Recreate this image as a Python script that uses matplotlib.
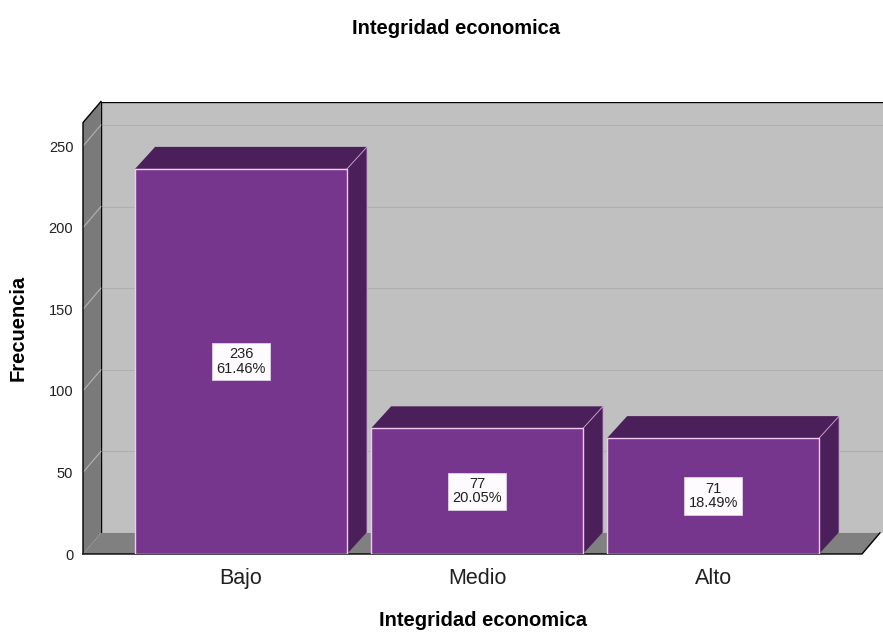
import matplotlib.pyplot as plt
from matplotlib.patches import Polygon

plt.rcParams['font.family'] = ['Liberation Sans', 'DejaVu Sans']

categories = ['Bajo', 'Medio', 'Alto']
counts = [236, 77, 71]
percents = ['61.46%', '20.05%', '18.49%']
yticks = [0, 50, 100, 150, 200, 250]

front_col = '#76368e'
dark_col = '#4b205a'
edge_col = '#f2c8f0'

# depth of the fake 3d effect, in data units
bar_dx, bar_dy = 0.085, 13.5
wall_dx, wall_dy = 0.076, 12.9
bar_w = 0.898

x0, x1, xmax = -0.6695, 2.631, 2.72
ytop = 264.4
ymax = 277.0

fig = plt.figure(figsize=(8.83, 6.33), dpi=100)
ax = fig.add_axes([83 / 883, 79 / 633, 800 / 883, 452 / 633])
ax.set_xlim(x0, xmax)
ax.set_ylim(0, ymax)
for s in ax.spines.values():
    s.set_visible(False)

# back wall
ax.add_patch(Polygon([(x0 + wall_dx, wall_dy), (xmax + 0.1, wall_dy), (xmax + 0.1, ytop + wall_dy),
                      (x0 + wall_dx, ytop + wall_dy)], closed=True, fc='#c0c0c0', ec='none', zorder=1))
for v in yticks[1:]:
    ax.plot([x0 + wall_dx, xmax + 0.1], [v + wall_dy, v + wall_dy], color='#afafaf', lw=0.8, zorder=1.5)
ax.plot([x0 + wall_dx, xmax + 0.1], [ytop + wall_dy] * 2, color='black', lw=1, zorder=1.6)
ax.plot([x0 + wall_dx, x0 + wall_dx], [wall_dy, ytop + wall_dy], color='black', lw=1, zorder=1.6)

# floor
ax.add_patch(Polygon([(x0, 0), (x1, 0), (x1 + wall_dx, wall_dy), (x0 + wall_dx, wall_dy)],
                     closed=True, fc='#808080', ec='none', zorder=2))
ax.plot([x0, x1, x1 + wall_dx], [0, 0, wall_dy], color='black', lw=1, zorder=2.2, clip_on=False)

# left wall
ax.add_patch(Polygon([(x0, 0), (x0, ytop), (x0 + wall_dx, ytop + wall_dy), (x0 + wall_dx, wall_dy)],
                     closed=True, fc='#7a7a7a', ec='none', zorder=2))
ax.plot([x0, x0, x0 + wall_dx], [0, ytop, ytop + wall_dy], color='black', lw=1, zorder=2.6, clip_on=False)
for v in yticks[1:]:
    ax.plot([x0, x0 + wall_dx], [v, v + wall_dy], color='#b4b4b4', lw=0.8, zorder=2.5)

pos = list(range(len(categories)))
bars = ax.bar(pos, counts, width=bar_w, color=front_col, edgecolor=edge_col, lw=1, zorder=5)
for b, c, p in zip(bars, counts, percents):
    l, r = b.get_x(), b.get_x() + b.get_width()
    ax.add_patch(Polygon([(r, 0), (r + bar_dx, bar_dy), (r + bar_dx, c + bar_dy), (r, c)],
                         closed=True, fc=dark_col, ec='none', zorder=4))
    ax.add_patch(Polygon([(l, c), (l + bar_dx, c + bar_dy), (r + bar_dx, c + bar_dy), (r, c)],
                         closed=True, fc=dark_col, ec='none', zorder=4))
    ax.plot([r, r + bar_dx, r + bar_dx], [c, c + bar_dy, bar_dy], color='#cfa8d6', lw=0.6, zorder=4.5)
    ax.text(b.get_x() + b.get_width() / 2, c / 2, f'{c}\n{p}', ha='center', va='center',
            fontsize=10.5, linespacing=1.05, color='#202020', zorder=6,
            bbox=dict(boxstyle='square,pad=0.3', fc='#fdfbfd', ec='#e0d0e6', lw=0.6))

ax.set_yticks(yticks, [str(v) for v in yticks], fontsize=10.5, color='#202020')
ax.set_xticks(pos, categories, fontsize=15.5, color='#202020')
ax.tick_params(axis='y', length=0, pad=7)
ax.tick_params(axis='x', length=0, pad=10)

ax.set_ylabel('Frecuencia', fontsize=14.5, fontweight='bold', labelpad=15)
ax.set_xlabel('Integridad economica', fontsize=14.5, fontweight='bold', labelpad=16)
fig.text(456 / 883, 1 - 28 / 633, 'Integridad economica', ha='center', va='center',
         fontsize=14.5, fontweight='bold')

fig.savefig('out.png', dpi=100)
